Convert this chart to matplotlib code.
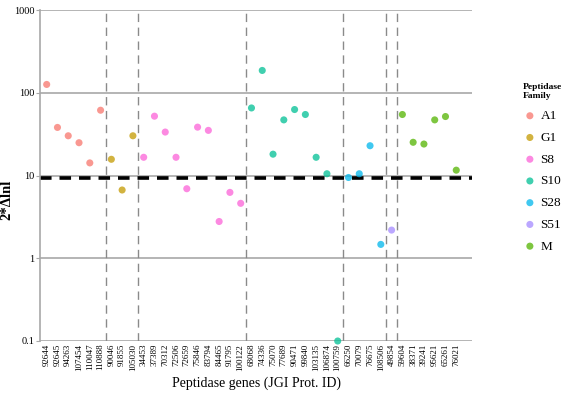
import matplotlib
matplotlib.use("Agg")
import matplotlib.pyplot as plt
import numpy as np

plt.rcParams['font.family'] = ['Liberation Serif', 'DejaVu Serif']

genes = ["92644", "92645", "94263", "107454", "110047", "110888",
         "90046", "91855", "105030",
         "34453", "37389", "70312", "72506", "72659", "75846", "83794", "84465", "91795", "100122",
         "68068", "74336", "75070", "77689", "90471", "99840", "103135", "106874", "100759",
         "66250", "70079", "76675", "108506",
         "49854",
         "59604", "38371", "39241", "95621", "65261", "76021"]
families = (["A1"] * 6 + ["G1"] * 3 + ["S8"] * 10 + ["S10"] * 9 +
            ["S28"] * 4 + ["S51"] * 1 + ["M"] * 6)
values = [126, 38.1, 30.2, 24.9, 14.2, 61.5,
          15.7, 6.68, 30.2,
          16.6, 52.1, 33.5, 16.6, 6.92, 38.4, 35.1, 2.78, 6.25, 4.61,
          65.5, 186, 18.1, 47, 62.7, 54.6, 16.6, 10.5, 0.1,
          9.46, 10.5, 22.9, 1.47,
          2.19,
          54.6, 25.2, 24.0, 47, 51.6, 11.6]
legend_order = ["A1", "G1", "S8", "S10", "S28", "S51", "M"]
family_colors = {"A1": "#F8766D", "G1": "#C49A00", "M": "#53B400", "S10": "#00C094",
                 "S28": "#00B6EB", "S51": "#A58AFF", "S8": "#FB61D7"}
threshold = 9.21
y_ticks = [0.1, 1, 10, 100, 1000]
y_tick_labels = ["0.1", "1", "10", "100", "1000"]

fig = plt.figure(figsize=(5.64, 3.93), dpi=100)
ax = fig.add_axes([40 / 564, 1 - 341 / 393, (472 - 40) / 564, (341 - 10) / 393])

x = np.arange(len(genes))
ax.set_yscale("log")
ax.set_ylim(0.1, 1000)
ax.set_xlim(-0.62, len(genes) - 1 + 1.46)

for yt in y_ticks:
    ax.axhline(yt, color="#a8a8a8", lw=1.2, zorder=1)

# vertical separators between families
bounds = []
for i in range(1, len(families)):
    if families[i] != families[i - 1]:
        bounds.append(i - 0.5)
for b in bounds:
    ax.axvline(b, color="#8a8a8a", lw=1.0, ls=(0, (6, 4)), zorder=1)

ax.axhline(threshold, color="black", lw=2.6, ls=(0, (3.2, 2.2)), zorder=2, clip_on=False)

for fam in legend_order:
    idx = [i for i, f in enumerate(families) if f == fam]
    ax.scatter([x[i] for i in idx], [values[i] for i in idx], s=26,
               color=family_colors[fam], alpha=0.75, edgecolors="none",
               zorder=3, label=fam, clip_on=False)

ax.set_yticks(y_ticks)
ax.set_yticklabels(y_tick_labels)
ax.yaxis.set_minor_locator(matplotlib.ticker.NullLocator())
ax.set_xticks(x)
ax.set_xticklabels(genes, rotation=90, fontsize=6.5)
ax.tick_params(axis="x", length=0, pad=2)
ax.tick_params(axis="y", length=3, color="#a8a8a8", labelsize=7.5, pad=1)

for s in ["top", "right", "bottom"]:
    ax.spines[s].set_visible(False)
ax.spines["left"].set_color("#a8a8a8")
ax.spines["left"].set_linewidth(1.2)

ax.set_xlabel("Peptidase genes (JGI Prot. ID)", fontsize=10, labelpad=4)
fig.text(7 / 564, 1 - 200 / 393, "2*Δlnl", rotation=90, fontsize=10.5,
         fontweight="bold", ha="center", va="center")

leg = ax.legend(loc="upper left", bbox_to_anchor=(518 / 564, 1 - 78 / 393),
                bbox_transform=fig.transFigure, frameon=False,
                title="Peptidase\nFamily", fontsize=9.5, handletextpad=0.3,
                labelspacing=0.72, borderaxespad=0, handlelength=1.0)
plt.setp(leg.get_title(), fontsize=6.8, fontweight="bold")
leg._legend_box.align = "left"
for h in leg.legend_handles:
    h.set_alpha(0.75)

fig.savefig("out.png", dpi=100)
